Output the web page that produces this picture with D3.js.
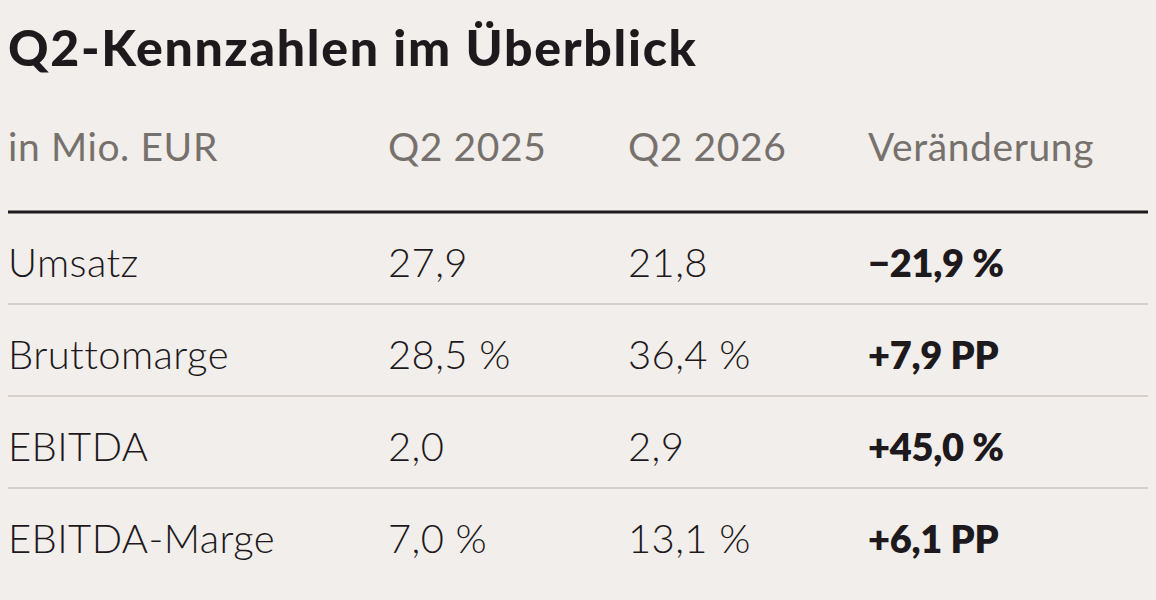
<!DOCTYPE html>
<html>
<head>
<meta charset="utf-8">
<script src="https://cdn.jsdelivr.net/npm/d3@7"></script>
<style>
  html, body { margin: 0; padding: 0; background: #f2eeeb; }
  svg { display: block; font-family: "Lato", sans-serif; }
</style>
</head>
<body>
<div class="responsive-svg-container"></div>
<script>
// Tabellendaten
const title = "Q2-Kennzahlen im Überblick";
const columns = ["in Mio. EUR", "Q2 2025", "Q2 2026", "Veränderung"];
const categories = ["Umsatz", "Bruttomarge", "EBITDA", "EBITDA-Marge"];
const q2_2025 = [27.9, 28.5, 2.0, 7.0];
const q2_2026 = [21.8, 36.4, 2.9, 13.1];
const change = [-21.9, 7.9, 45.0, 6.1];
const valueUnits = ["", "%", "", "%"];
const changeUnits = ["%", "PP", "%", "PP"];

const width = 1156, height = 600;

const svg = d3.select(".responsive-svg-container")
  .append("svg")
    .attr("width", width)
    .attr("height", height)
    .attr("viewBox", `0 0 ${width} ${height}`);

svg.append("rect")
  .attr("width", width)
  .attr("height", height)
  .attr("fill", "#f2eeeb");

// deutsche Zahlenformate
const de = d3.formatLocale({
  decimal: ",", thousands: ".", grouping: [3], currency: ["", " €"], minus: "\u2212"
});
const fmt = de.format(".1f");
const fmtSigned = de.format("+.1f");

const withUnit = (s, u) => u ? `${s} ${u}` : s;

const data = categories.map((name, i) => ({
  name,
  cells: [
    name,
    withUnit(fmt(q2_2025[i]), valueUnits[i]),
    withUnit(fmt(q2_2026[i]), valueUnits[i]),
    withUnit(fmtSigned(change[i]), changeUnits[i])
  ]
}));

// Spaltenpositionen und Zeilen
const x = d3.scaleOrdinal()
  .domain(columns)
  .range([8, 388, 628, 868]);

const y = d3.scaleBand()
  .domain(categories)
  .range([212, 580]);

const left = 8, right = 1148;

// Titel
svg.append("text")
  .attr("x", left)
  .attr("y", 66)
  .attr("fill", "#1d191c")
  .attr("font-size", 50)
  .attr("font-weight", 900)
  .attr("letter-spacing", 1.7)
  .text(title);

// Kopfzeile
svg.selectAll(".head")
  .data(columns)
  .join("text")
    .attr("class", "head")
    .attr("x", d => x(d))
    .attr("y", 161)
    .attr("fill", "#77716d")
    .attr("font-size", 39)
    .attr("font-weight", 400)
    .attr("letter-spacing", 0.6)
    .text(d => d);

svg.append("line")
  .attr("x1", left).attr("x2", right)
  .attr("y1", 212).attr("y2", 212)
  .attr("stroke", "#1d191c")
  .attr("stroke-width", 3);

// Trennlinien zwischen den Zeilen
svg.selectAll(".sep")
  .data(categories.slice(1))
  .join("line")
    .attr("class", "sep")
    .attr("x1", left).attr("x2", right)
    .attr("y1", d => y(d)).attr("y2", d => y(d))
    .attr("stroke", "#d7d0ca")
    .attr("stroke-width", 2);

// Zeilen
const rows = svg.selectAll(".row")
  .data(data)
  .join("g")
    .attr("class", "row")
    .attr("transform", d => `translate(0,${y(d.name) + y.bandwidth() / 2 + 19})`);

rows.selectAll("text")
  .data(d => d.cells)
  .join("text")
    .attr("x", (d, i) => x(columns[i]))
    .attr("fill", "#1d191c")
    .attr("font-size", (d, i) => i === 3 ? 38 : 40)
    .attr("font-weight", (d, i) => i === 3 ? 800 : 300)
    .attr("letter-spacing", (d, i) => i === 3 ? -0.3 : 0.4)
    .text(d => d);
</script>
</body>
</html>
